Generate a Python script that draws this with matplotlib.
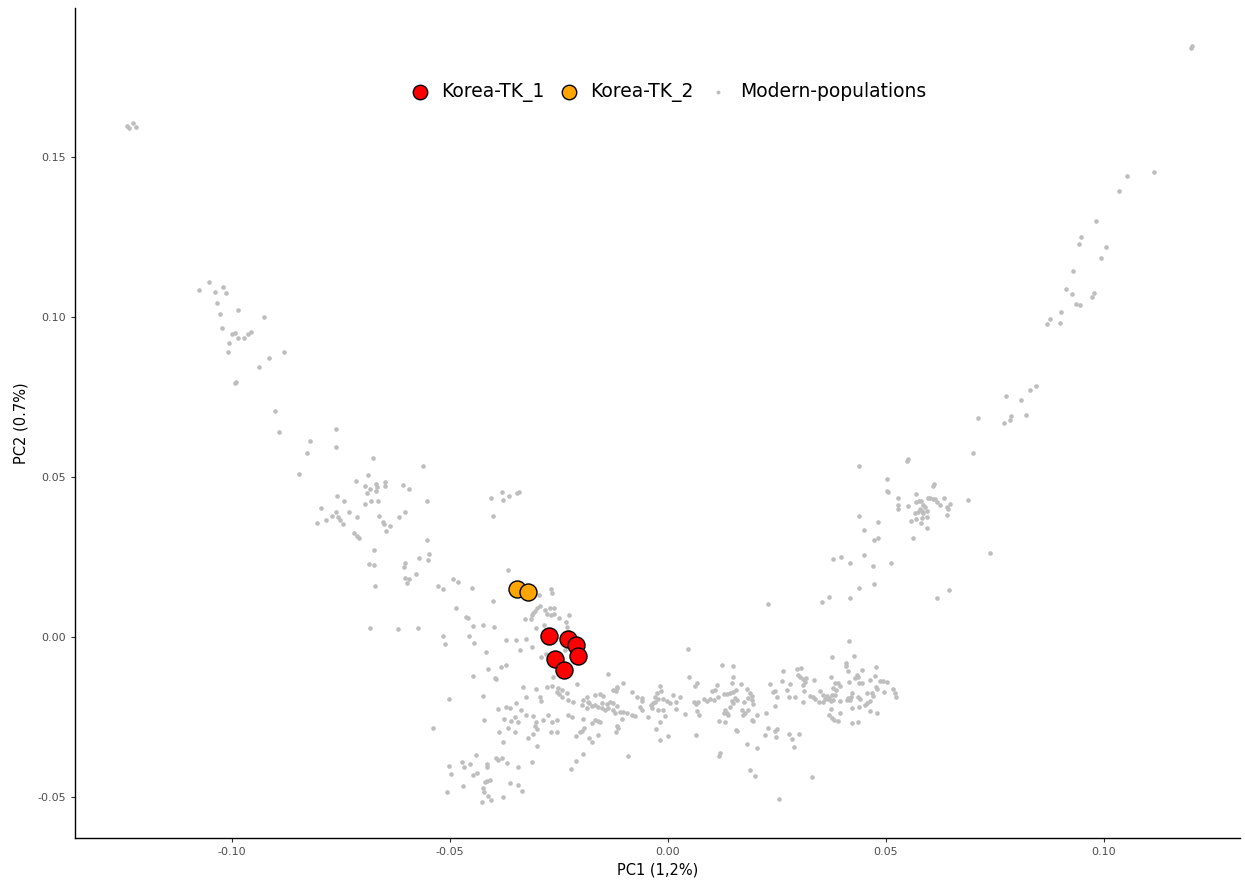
import numpy as np
import matplotlib
matplotlib.use('Agg')
import matplotlib.pyplot as plt

# PCA coordinates (PC1, PC2)
modern = [
    # far upper left
    (-0.1241, 0.1597), (-0.1227, 0.1606), (-0.1220, 0.1594), (-0.1236, 0.1591),
    # left arm
    (-0.1053, 0.1109), (-0.1076, 0.1084), (-0.1021, 0.1094), (-0.1039, 0.1078), (-0.1014, 0.1075),
    (-0.1034, 0.1044), (-0.1028, 0.1009), (-0.0986, 0.1022), (-0.0927, 0.1000), (-0.1023, 0.0966),
    (-0.1000, 0.0947), (-0.0993, 0.0950), (-0.0986, 0.0934), (-0.0972, 0.0934), (-0.0963, 0.0947),
    (-0.0956, 0.0953), (-0.1007, 0.0919), (-0.1009, 0.0891), (-0.0881, 0.0891), (-0.0915, 0.0872),
    (-0.0938, 0.0844), (-0.0993, 0.0794), (-0.0990, 0.0797), (-0.0901, 0.0706), (-0.0892, 0.0641),
    (-0.0821, 0.0613), (-0.0761, 0.0650), (-0.0761, 0.0594),
    (-0.0828, 0.0575), (-0.0846, 0.0509), (-0.0677, 0.0559), (-0.0562, 0.0534), (-0.0688, 0.0506),
    (-0.0716, 0.0488), (-0.0695, 0.0472), (-0.0683, 0.0463), (-0.0670, 0.0478), (-0.0667, 0.0469),
    (-0.0649, 0.0484), (-0.0649, 0.0472), (-0.0690, 0.0450), (-0.0670, 0.0456), (-0.0608, 0.0475),
    (-0.0594, 0.0463), (-0.0759, 0.0441), (-0.0743, 0.0425), (-0.0681, 0.0425), (-0.0665, 0.0425),
    (-0.0695, 0.0416), (-0.0553, 0.0425), (-0.0796, 0.0403), (-0.0761, 0.0391), (-0.0732, 0.0391),
    (-0.0771, 0.0378), (-0.0784, 0.0366), (-0.0805, 0.0356), (-0.0757, 0.0375), (-0.0752, 0.0366),
    (-0.0745, 0.0353), (-0.0713, 0.0375), (-0.0663, 0.0378), (-0.0603, 0.0391), (-0.0617, 0.0375),
    (-0.0654, 0.0359), (-0.0652, 0.0353), (-0.0638, 0.0347), (-0.0647, 0.0331), (-0.0720, 0.0325),
    (-0.0713, 0.0316), (-0.0709, 0.0309), (-0.0553, 0.0303), (-0.0674, 0.0272), (-0.0548, 0.0259),
    (-0.0571, 0.0247), (-0.0550, 0.0241), (-0.0686, 0.0228), (-0.0674, 0.0225), (-0.0603, 0.0231),
    (-0.0606, 0.0219), (-0.0578, 0.0197), (-0.0603, 0.0184), (-0.0594, 0.0181), (-0.0599, 0.0169),
    (-0.0672, 0.0159), (-0.0528, 0.0159), (-0.0516, 0.0150), (-0.0493, 0.0181), (-0.0482, 0.0172),
    (-0.0450, 0.0153), (-0.0683, 0.0028),
    # middle upper group
    (-0.0406, 0.0434), (-0.0381, 0.0453), (-0.0378, 0.0428), (-0.0365, 0.0441), (-0.0346, 0.0450),
    (-0.0342, 0.0453), (-0.0401, 0.0378), (-0.0367, 0.0209), (-0.0401, 0.0113), (-0.0486, 0.0091),
    (-0.0463, 0.0063), (-0.0459, 0.0059), (-0.0447, 0.0034), (-0.0424, 0.0038), (-0.0399, 0.0031),
    (-0.0619, 0.0025), (-0.0573, 0.0028), (-0.0268, 0.0150), (-0.0266, 0.0138), (-0.0296, 0.0131),
    # near the Korean samples
    (-0.0294, 0.0097), (-0.0300, 0.0091), (-0.0305, 0.0081), (-0.0310, 0.0075), (-0.0312, 0.0069),
    (-0.0282, 0.0084), (-0.0271, 0.0091), (-0.0261, 0.0091), (-0.0278, 0.0072), (-0.0268, 0.0069),
    (-0.0261, 0.0072), (-0.0227, 0.0069), (-0.0328, 0.0056), (-0.0314, 0.0056), (-0.0250, 0.0059),
    (-0.0234, 0.0047), (-0.0303, 0.0028), (-0.0284, 0.0038), (-0.0232, 0.0031), (-0.0372, -0.0009),
    (-0.0349, -0.0009), (-0.0326, -0.0006), (-0.0227, 0.0016), (-0.0273, 0.0013), (-0.0229, 0.0000),
    (-0.0339, -0.0041), (-0.0312, -0.0031), (-0.0280, -0.0053), (-0.0291, -0.0063), (-0.0236, -0.0041),
    (-0.0383, -0.0094), (-0.0372, -0.0088), (-0.0397, -0.0128), (-0.0264, -0.0125), (-0.0138, -0.0116),
    (-0.0209, -0.0147), (-0.0333, -0.0156), (-0.0303, -0.0163), (-0.0278, -0.0156), (-0.0266, -0.0153),
    (-0.0252, -0.0159), (-0.0243, -0.0166), (-0.0294, -0.0188), (-0.0232, -0.0175), (-0.0186, -0.0188),
    (-0.0167, -0.0181), (-0.0156, -0.0178), (-0.0149, -0.0184), (-0.0126, -0.0166), (-0.0117, -0.0156),
    (-0.0103, -0.0144), (-0.0083, -0.0172), (-0.0071, -0.0188),
    # lower left cloud
    (-0.0516, 0.0003), (-0.0511, -0.0022), (-0.0456, 0.0003), (-0.0445, -0.0019), (-0.0417, -0.0047),
    (-0.0413, -0.0100), (-0.0447, -0.0122), (-0.0394, -0.0131), (-0.0502, -0.0194), (-0.0424, -0.0184),
    (-0.0326, -0.0188), (-0.0291, -0.0200), (-0.0255, -0.0172), (-0.0250, -0.0178), (-0.0243, -0.0188),
    (-0.0229, -0.0197), (-0.0218, -0.0203), (-0.0195, -0.0197), (-0.0181, -0.0206), (-0.0174, -0.0216),
    (-0.0167, -0.0213), (-0.0161, -0.0219), (-0.0390, -0.0225), (-0.0372, -0.0219), (-0.0362, -0.0222),
    (-0.0349, -0.0206), (-0.0337, -0.0228), (-0.0422, -0.0259), (-0.0376, -0.0256), (-0.0360, -0.0263),
    (-0.0351, -0.0250), (-0.0344, -0.0266), (-0.0326, -0.0244), (-0.0310, -0.0247), (-0.0303, -0.0266),
    (-0.0287, -0.0259), (-0.0275, -0.0244), (-0.0266, -0.0266), (-0.0255, -0.0259), (-0.0229, -0.0244),
    (-0.0220, -0.0250), (-0.0195, -0.0256), (-0.0174, -0.0269), (-0.0167, -0.0259), (-0.0161, -0.0263),
    (-0.0539, -0.0284), (-0.0388, -0.0297), (-0.0367, -0.0284), (-0.0351, -0.0297), (-0.0305, -0.0278),
    (-0.0300, -0.0288), (-0.0268, -0.0297), (-0.0255, -0.0297), (-0.0211, -0.0309), (-0.0202, -0.0297),
    (-0.0193, -0.0284), (-0.0181, -0.0316), (-0.0174, -0.0328), (-0.0321, -0.0316), (-0.0310, -0.0303),
    (-0.0378, -0.0328), (-0.0300, -0.0341), (-0.0440, -0.0369), (-0.0394, -0.0378), (-0.0390, -0.0384),
    (-0.0381, -0.0378), (-0.0472, -0.0391), (-0.0468, -0.0406), (-0.0502, -0.0403), (-0.0454, -0.0397),
    (-0.0415, -0.0397), (-0.0415, -0.0406), (-0.0369, -0.0394), (-0.0344, -0.0406), (-0.0312, -0.0391),
    (-0.0498, -0.0428), (-0.0447, -0.0431), (-0.0438, -0.0425), (-0.0222, -0.0413), (-0.0211, -0.0388),
    (-0.0195, -0.0366), (-0.0470, -0.0466), (-0.0420, -0.0453), (-0.0415, -0.0450), (-0.0408, -0.0447),
    (-0.0424, -0.0472), (-0.0422, -0.0484), (-0.0362, -0.0456), (-0.0344, -0.0463), (-0.0335, -0.0481),
    (-0.0507, -0.0484), (-0.0413, -0.0497), (-0.0378, -0.0500), (-0.0427, -0.0516), (-0.0406, -0.0509),
    # bottom band
    (0.0124, -0.0088), (0.0149, -0.0091), (0.0048, -0.0125), (0.0067, -0.0144), (0.0062, -0.0153),
    (0.0149, -0.0125), (-0.0018, -0.0153), (-0.0016, -0.0169), (-0.0025, -0.0175), (-0.0117, -0.0159),
    (-0.0119, -0.0169), (0.0112, -0.0150), (0.0101, -0.0169), (0.0108, -0.0166), (0.0147, -0.0144),
    (0.0156, -0.0166), (0.0149, -0.0172), (0.0142, -0.0175), (0.0128, -0.0178), (0.0135, -0.0178),
    (0.0167, -0.0147), (0.0181, -0.0163), (0.0188, -0.0175), (0.0193, -0.0184), (0.0234, -0.0147),
    (0.0245, -0.0169), (0.0241, -0.0172), (0.0011, -0.0181), (0.0028, -0.0188), (-0.0060, -0.0191),
    (-0.0060, -0.0200), (-0.0030, -0.0188), (-0.0023, -0.0194), (-0.0011, -0.0194), (-0.0002, -0.0200),
    (0.0005, -0.0206), (-0.0030, -0.0203), (-0.0034, -0.0206), (0.0060, -0.0203), (0.0069, -0.0203),
    (0.0064, -0.0209), (0.0083, -0.0194), (0.0089, -0.0200), (0.0096, -0.0194), (0.0106, -0.0197),
    (0.0115, -0.0188), (0.0154, -0.0191), (0.0158, -0.0197), (0.0147, -0.0200), (0.0149, -0.0206),
    (0.0183, -0.0191), (0.0193, -0.0197), (0.0174, -0.0203), (0.0195, -0.0209), (0.0250, -0.0188),
    (-0.0183, -0.0203), (-0.0151, -0.0206), (-0.0140, -0.0209), (-0.0133, -0.0203), (-0.0126, -0.0206),
    (-0.0117, -0.0216), (-0.0197, -0.0213), (-0.0186, -0.0222), (-0.0151, -0.0222), (-0.0144, -0.0228),
    (-0.0138, -0.0222), (-0.0126, -0.0228), (-0.0122, -0.0238), (-0.0110, -0.0234), (-0.0039, -0.0213),
    (-0.0037, -0.0222), (-0.0023, -0.0228), (-0.0011, -0.0228), (0.0018, -0.0203), (0.0018, -0.0225),
    (-0.0064, -0.0219), (-0.0060, -0.0228), (0.0142, -0.0219), (0.0131, -0.0228), (0.0135, -0.0238),
    (0.0128, -0.0238), (0.0138, -0.0244), (0.0170, -0.0228), (0.0177, -0.0238), (0.0172, -0.0244),
    (0.0183, -0.0228), (0.0067, -0.0231), (0.0071, -0.0244), (0.0039, -0.0241), (0.0225, -0.0238),
    (0.0245, -0.0216), (-0.0103, -0.0234), (-0.0094, -0.0238), (-0.0083, -0.0244), (-0.0076, -0.0247),
    (-0.0046, -0.0250), (-0.0007, -0.0247), (-0.0106, -0.0256), (0.0204, -0.0244), (-0.0156, -0.0266),
    (-0.0018, -0.0266), (0.0117, -0.0263), (0.0131, -0.0266), (0.0193, -0.0259), (0.0195, -0.0263),
    (-0.0197, -0.0294), (-0.0117, -0.0278), (-0.0115, -0.0284), (-0.0119, -0.0297), (-0.0028, -0.0288),
    (0.0156, -0.0291), (0.0158, -0.0294), (0.0229, -0.0284), (0.0250, -0.0288), (-0.0161, -0.0306),
    (-0.0018, -0.0322), (0.0000, -0.0309), (0.0064, -0.0306), (0.0222, -0.0306), (0.0181, -0.0334),
    (0.0204, -0.0347), (-0.0092, -0.0372), (0.0119, -0.0363), (0.0117, -0.0372), (0.0188, -0.0416),
    (0.0200, -0.0434), (0.0255, -0.0506), (0.0046, -0.0038), (0.0229, 0.0103),
    # bottom band, right part
    (0.0415, -0.0013), (0.0376, -0.0063), (0.0427, -0.0059), (0.0408, -0.0081), (0.0408, -0.0091),
    (0.0264, -0.0106), (0.0296, -0.0100), (0.0305, -0.0097), (0.0477, -0.0094), (0.0445, -0.0103),
    (0.0413, -0.0106), (0.0298, -0.0119), (0.0303, -0.0125), (0.0310, -0.0131), (0.0317, -0.0128),
    (0.0314, -0.0141), (0.0374, -0.0125), (0.0433, -0.0119), (0.0436, -0.0125), (0.0429, -0.0128),
    (0.0475, -0.0122), (0.0261, -0.0138), (0.0335, -0.0134), (0.0280, -0.0147), (0.0310, -0.0150),
    (0.0383, -0.0144), (0.0390, -0.0144), (0.0394, -0.0153), (0.0415, -0.0141), (0.0438, -0.0144),
    (0.0445, -0.0144), (0.0463, -0.0134), (0.0486, -0.0138), (0.0493, -0.0138), (0.0502, -0.0141),
    (0.0477, -0.0156), (0.0479, -0.0163), (0.0516, -0.0163), (0.0521, -0.0175), (0.0523, -0.0188),
    (0.0273, -0.0166), (0.0312, -0.0169), (0.0349, -0.0169), (0.0378, -0.0159), (0.0385, -0.0166),
    (0.0422, -0.0175), (0.0456, -0.0175), (0.0468, -0.0175), (0.0495, -0.0172), (0.0356, -0.0181),
    (0.0365, -0.0184), (0.0376, -0.0181), (0.0326, -0.0184), (0.0333, -0.0188), (0.0337, -0.0194),
    (0.0383, -0.0181), (0.0278, -0.0188), (0.0291, -0.0188), (0.0413, -0.0191), (0.0420, -0.0188),
    (0.0417, -0.0197), (0.0436, -0.0188), (0.0440, -0.0194), (0.0470, -0.0184), (0.0360, -0.0194),
    (0.0367, -0.0194), (0.0374, -0.0200), (0.0378, -0.0197), (0.0369, -0.0191), (0.0346, -0.0203),
    (0.0356, -0.0203), (0.0310, -0.0203), (0.0394, -0.0200), (0.0411, -0.0197), (0.0463, -0.0200),
    (0.0456, -0.0206), (0.0452, -0.0213), (0.0422, -0.0222), (0.0438, -0.0219), (0.0374, -0.0225),
    (0.0463, -0.0231), (0.0479, -0.0238), (0.0394, -0.0238), (0.0369, -0.0244), (0.0376, -0.0253),
    (0.0381, -0.0259), (0.0390, -0.0263), (0.0422, -0.0269), (0.0436, -0.0266), (0.0245, -0.0294),
    (0.0248, -0.0313), (0.0278, -0.0303), (0.0300, -0.0303), (0.0284, -0.0319), (0.0289, -0.0344),
    (0.0330, -0.0438),
    # right arm
    (0.0700, 0.0575), (0.0438, 0.0534), (0.0548, 0.0550), (0.0550, 0.0556), (0.0502, 0.0494),
    (0.0610, 0.0478), (0.0608, 0.0472), (0.0502, 0.0456), (0.0505, 0.0453), (0.0569, 0.0447),
    (0.0528, 0.0434), (0.0596, 0.0434), (0.0601, 0.0434), (0.0608, 0.0431), (0.0612, 0.0431),
    (0.0633, 0.0434), (0.0688, 0.0428), (0.0569, 0.0422), (0.0576, 0.0425), (0.0580, 0.0425),
    (0.0617, 0.0422), (0.0528, 0.0413), (0.0528, 0.0400), (0.0550, 0.0409), (0.0585, 0.0413),
    (0.0589, 0.0406), (0.0624, 0.0413), (0.0647, 0.0416), (0.0640, 0.0406), (0.0642, 0.0400),
    (0.0578, 0.0400), (0.0583, 0.0394), (0.0573, 0.0391), (0.0567, 0.0388), (0.0585, 0.0388),
    (0.0594, 0.0394), (0.0640, 0.0381), (0.0594, 0.0375), (0.0557, 0.0363), (0.0569, 0.0369),
    (0.0580, 0.0356), (0.0583, 0.0372), (0.0594, 0.0341), (0.0438, 0.0378), (0.0482, 0.0359),
    (0.0450, 0.0334), (0.0472, 0.0303), (0.0482, 0.0309), (0.0562, 0.0309), (0.0378, 0.0244),
    (0.0397, 0.0250), (0.0417, 0.0231), (0.0450, 0.0256), (0.0470, 0.0222), (0.0511, 0.0231),
    (0.0472, 0.0166), (0.0438, 0.0153), (0.0369, 0.0125), (0.0353, 0.0109), (0.0417, 0.0122),
    (0.0644, 0.0147), (0.0617, 0.0122), (0.0739, 0.0263),
    (0.0929, 0.1144), (0.0913, 0.1088), (0.0927, 0.1072), (0.0977, 0.1075), (0.0972, 0.1063),
    (0.0936, 0.1041), (0.0945, 0.1038), (0.0901, 0.1016), (0.0876, 0.0994), (0.0869, 0.0978),
    (0.0899, 0.0981), (0.0844, 0.0784), (0.0830, 0.0772), (0.0775, 0.0753), (0.0810, 0.0741),
    (0.0821, 0.0694), (0.0787, 0.0691), (0.0784, 0.0678), (0.0771, 0.0669), (0.0711, 0.0684),
    (0.1202, 0.1847), (0.1200, 0.1841), (0.1115, 0.1453), (0.1053, 0.1441), (0.1034, 0.1394),
    (0.0982, 0.1300), (0.0947, 0.1250), (0.0943, 0.1228), (0.1005, 0.1219), (0.0993, 0.1184),
]

tk1_pc1 = [-0.0273, -0.0229, -0.0211, -0.0206, -0.0259, -0.0239]
tk1_pc2 = [0.0003, -0.0006, -0.0025, -0.0059, -0.0069, -0.0103]
tk2_pc1 = [-0.0346, -0.0321]
tk2_pc2 = [0.0150, 0.0141]

modern = np.array(modern)

fig = plt.figure(figsize=(12.45, 8.86), dpi=100)
ax = fig.add_axes([0.0602, 0.0542, 0.9358, 0.9368])

ax.scatter(modern[:, 0], modern[:, 1], s=11, color='#BEBEBE', linewidths=0,
           label='Modern-populations', zorder=2)
ax.scatter(tk2_pc1, tk2_pc2, s=150, facecolor='#FFA500', edgecolor='black',
           linewidths=1, label='Korea-TK_2', zorder=3)
ax.scatter(tk1_pc1, tk1_pc2, s=150, facecolor='#FF0000', edgecolor='black',
           linewidths=1, label='Korea-TK_1', zorder=4)

ax.set_xlim(-0.1360, 0.1312)
ax.set_ylim(-0.0628, 0.1966)
ax.set_xticks([-0.10, -0.05, 0.00, 0.05, 0.10])
ax.set_yticks([-0.05, 0.00, 0.05, 0.10, 0.15])
ax.set_xticklabels(['-0.10', '-0.05', '0.00', '0.05', '0.10'])
ax.set_yticklabels(['-0.05', '0.00', '0.05', '0.10', '0.15'])
ax.tick_params(labelsize=8, colors='#333333', labelcolor='#4D4D4D', length=3, width=0.8)
for s in ['top', 'right']:
    ax.spines[s].set_visible(False)
for s in ['left', 'bottom']:
    ax.spines[s].set_linewidth(1.0)

ax.set_xlabel('PC1 (1,2%)', fontsize=10.5, labelpad=4)
ax.set_ylabel('PC2 (0.7%)', fontsize=10.5, labelpad=6)

h, l = ax.get_legend_handles_labels()
order = [2, 1, 0]
fig.legend([h[i] for i in order], [l[i] for i in order], loc='center',
           bbox_to_anchor=(0.536, 0.896), ncol=3, frameon=False, fontsize=13.5,
           handlelength=1.2, handletextpad=0.55, columnspacing=0.7, markerscale=0.85)

fig.savefig('out.png', dpi=100)
